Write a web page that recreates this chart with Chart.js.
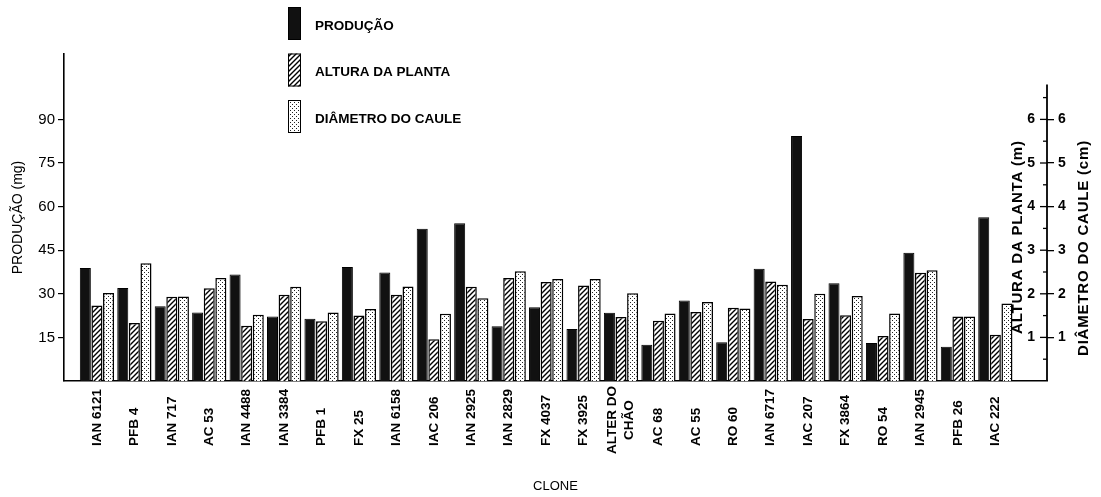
<!DOCTYPE html>
<html>
<head>
<meta charset="utf-8">
<script src="https://cdn.jsdelivr.net/npm/chart.js@4.4.0/dist/chart.umd.min.js"></script>
<style>
  html, body { margin: 0; padding: 0; background: #fff; }
  canvas { display: block; }
</style>
</head>
<body>
<canvas id="chart" width="1101" height="497"></canvas>
<script>
const clones = [
    'IAN 6121', 'PFB 4', 'IAN 717', 'AC 53', 'IAN 4488', 'IAN 3384', 'PFB 1', 'FX 25',
    'IAN 6158', 'IAC 206', 'IAN 2925', 'IAN 2829', 'FX 4037', 'FX 3925', ['ALTER DO', 'CHÃO'],
    'AC 68', 'AC 55', 'RO 60', 'IAN 6717', 'IAC 207', 'FX 3864', 'RO 54', 'IAN 2945', 'PFB 26', 'IAC 222'
];
// produção (mg) - left axis
const producao = [38.9, 32.0, 25.7, 23.6, 36.6, 22.2, 21.4, 39.2, 37.3, 52.4, 54.3, 18.8, 25.4,
    17.9, 23.5, 12.5, 27.7, 13.3, 38.6, 84.3, 33.6, 13.1, 44.1, 11.8, 56.3];
// altura da planta (m) - right axis
const altura = [1.73, 1.33, 1.93, 2.13, 1.27, 1.98, 1.37, 1.50, 1.98, 0.96, 2.16, 2.36, 2.27,
    2.19, 1.47, 1.38, 1.58, 1.68, 2.28, 1.42, 1.51, 1.03, 2.48, 1.48, 1.06];
// diâmetro do caule (cm) - right axis
const diametro = [2.02, 2.70, 1.94, 2.36, 1.52, 2.16, 1.57, 1.65, 2.17, 1.54, 1.90, 2.52, 2.34,
    2.34, 2.01, 1.55, 1.81, 1.66, 2.21, 2.00, 1.95, 1.55, 2.54, 1.48, 1.78];

const leftTicks = [15, 30, 45, 60, 75, 90];
const rightTicks = [0.5, 1, 1.5, 2, 2.5, 3, 3.5, 4, 4.5, 5, 5.5, 6, 6.5];

const FONT = '"Liberation Sans", Arial, Helvetica, sans-serif';
Chart.defaults.font.family = FONT;
Chart.defaults.color = '#000';

function makePattern(kind) {
    const c = document.createElement('canvas');
    const g = c.getContext('2d');
    if (kind === 'hatch') {
        c.width = 5; c.height = 5;
        g.fillStyle = '#fff';
        g.fillRect(0, 0, 5, 5);
        g.strokeStyle = '#000';
        g.lineWidth = 1.4;
        g.beginPath();
        g.moveTo(-1, 1); g.lineTo(1, -1);
        g.moveTo(0, 5); g.lineTo(5, 0);
        g.moveTo(4, 6); g.lineTo(6, 4);
        g.stroke();
    } else {
        c.width = 4; c.height = 4;
        g.fillStyle = '#fff';
        g.fillRect(0, 0, 4, 4);
        g.fillStyle = '#222';
        g.fillRect(0, 0, 1, 1);
        g.fillRect(2, 2, 1, 1);
    }
    return g.createPattern(c, 'repeat');
}

const hatch = makePattern('hatch');
const dots = makePattern('dots');

const series = [
    { label: 'PRODUÇÃO', values: producao, fill: '#111', axis: 'y' },
    { label: 'ALTURA DA PLANTA', values: altura, fill: hatch, axis: 'yR' },
    { label: 'DIÂMETRO DO CAULE', values: diametro, fill: dots, axis: 'yR' }
];

// legend, clone labels and the doubled right axis are drawn here
const extras = {
    id: 'extras',
    afterDraw(chart) {
        const { ctx, chartArea, scales: { x, yR } } = chart;
        ctx.save();
        ctx.fillStyle = '#000';
        ctx.strokeStyle = '#000';

        // legend
        chart.data.datasets.forEach((ds, i) => {
            const top = 7 + i * 46.5;
            ctx.fillStyle = ds.backgroundColor;
            ctx.fillRect(288, top, 13, 33);
            ctx.lineWidth = 1;
            ctx.strokeRect(288.5, top + 0.5, 12, 32);
            ctx.fillStyle = '#000';
            ctx.font = 'bold 13.5px ' + FONT;
            ctx.textAlign = 'left';
            ctx.textBaseline = 'middle';
            ctx.fillText(ds.label, 315, top + 19);
        });

        // clone labels, read upward from a common bottom line
        ctx.font = 'bold 13.5px ' + FONT;
        const base = chartArea.bottom + 65;
        clones.forEach((name, i) => {
            const px = x.getPixelForValue(i);
            const lines = Array.isArray(name) ? name : [name];
            const widest = Math.max(...lines.map(l => ctx.measureText(l).width));
            ctx.save();
            ctx.translate(px, base);
            ctx.rotate(-Math.PI / 2);
            ctx.textBaseline = 'middle';
            lines.forEach((l, k) => {
                const off = (k - (lines.length - 1) / 2) * 17;
                if (lines.length > 1) {
                    ctx.textAlign = 'center';
                    ctx.fillText(l, widest / 2 - 8, off);
                } else {
                    ctx.textAlign = 'left';
                    ctx.fillText(l, 0, off);
                }
            });
            ctx.restore();
        });

        // right axis line and inner ticks / labels
        const ax = yR.left;
        ctx.lineWidth = 1.8;
        ctx.beginPath();
        ctx.moveTo(ax, yR.getPixelForValue(0));
        ctx.lineTo(ax, yR.getPixelForValue(6.8));
        ctx.stroke();
        ctx.lineWidth = 1.3;
        rightTicks.forEach(v => {
            const py = yR.getPixelForValue(v);
            const len = Number.isInteger(v) ? 7 : 4;
            ctx.beginPath();
            ctx.moveTo(ax - len, py);
            ctx.lineTo(ax, py);
            ctx.stroke();
        });
        ctx.font = 'bold 14px ' + FONT;
        ctx.textAlign = 'right';
        ctx.textBaseline = 'middle';
        rightTicks.filter(Number.isInteger).forEach(v => {
            ctx.fillText(String(v), ax - 12, yR.getPixelForValue(v));
        });

        // right axis titles, both reading upward
        ctx.font = 'bold 15px ' + FONT;
        ctx.letterSpacing = '0.8px';
        ctx.textAlign = 'center';
        [['ALTURA DA PLANTA (m)', ax - 29, 3.3], ['DIÂMETRO DO CAULE (cm)', ax + 37, 3.05]].forEach(([t, tx, v]) => {
            ctx.save();
            ctx.translate(tx, yR.getPixelForValue(v));
            ctx.rotate(-Math.PI / 2);
            ctx.fillText(t, 0, 0);
            ctx.restore();
        });
        ctx.restore();
    }
};

new Chart(document.getElementById('chart'), {
    type: 'bar',
    data: {
        datasets: series.map(s => ({
            label: s.label,
            data: s.values.map((v, i) => ({ x: i, y: v })),
            backgroundColor: s.fill,
            borderColor: '#000',
            borderWidth: s.axis === 'y' ? 1 : 1.5,
            yAxisID: s.axis,
            categoryPercentage: 0.93,
            barPercentage: 0.95
        }))
    },
    options: {
        responsive: false,
        animation: false,
        devicePixelRatio: 1,
        layout: { padding: { top: 54, left: 0, right: 0, bottom: 0 } },
        plugins: {
            legend: { display: false },
            tooltip: { enabled: false }
        },
        scales: {
            x: {
                type: 'linear',
                offset: false,
                min: -0.88,
                max: 25.38,
                grid: { display: false },
                border: { display: true, color: '#000', width: 1.5 },
                ticks: { display: false },
                title: { display: true, text: 'CLONE', font: { size: 13 }, padding: { top: 0, bottom: 3 } },
                afterFit: s => { s.height = 116; }
            },
            y: {
                position: 'left',
                min: 0,
                max: 112.5,
                afterBuildTicks: s => { s.ticks = leftTicks.map(v => ({ value: v })); },
                grid: { drawOnChartArea: false, tickLength: 6, color: '#000', lineWidth: 1.2 },
                border: { color: '#000', width: 1.6 },
                ticks: { font: { size: 15 }, padding: 3 },
                title: { display: true, text: 'PRODUÇÃO (mg)', font: { size: 14 }, padding: { top: 10, bottom: 0 } },
                afterFit: s => { s.width = 64; }
            },
            yR: {
                position: 'right',
                min: 0,
                max: 7.5,
                afterBuildTicks: s => { s.ticks = rightTicks.map(v => ({ value: v })); },
                grid: {
                    drawOnChartArea: false,
                    tickLength: 7,
                    lineWidth: 1.3,
                    color: c => Number.isInteger(c.tick.value) ? '#000' : 'rgba(0,0,0,0)'
                },
                border: { display: false },
                ticks: {
                    font: { size: 14, weight: 'bold' },
                    padding: 4,
                    callback: v => Number.isInteger(v) ? v : ''
                },
                afterFit: s => { s.width = 54; }
            }
        }
    },
    plugins: [extras]
});
</script>
</body>
</html>
